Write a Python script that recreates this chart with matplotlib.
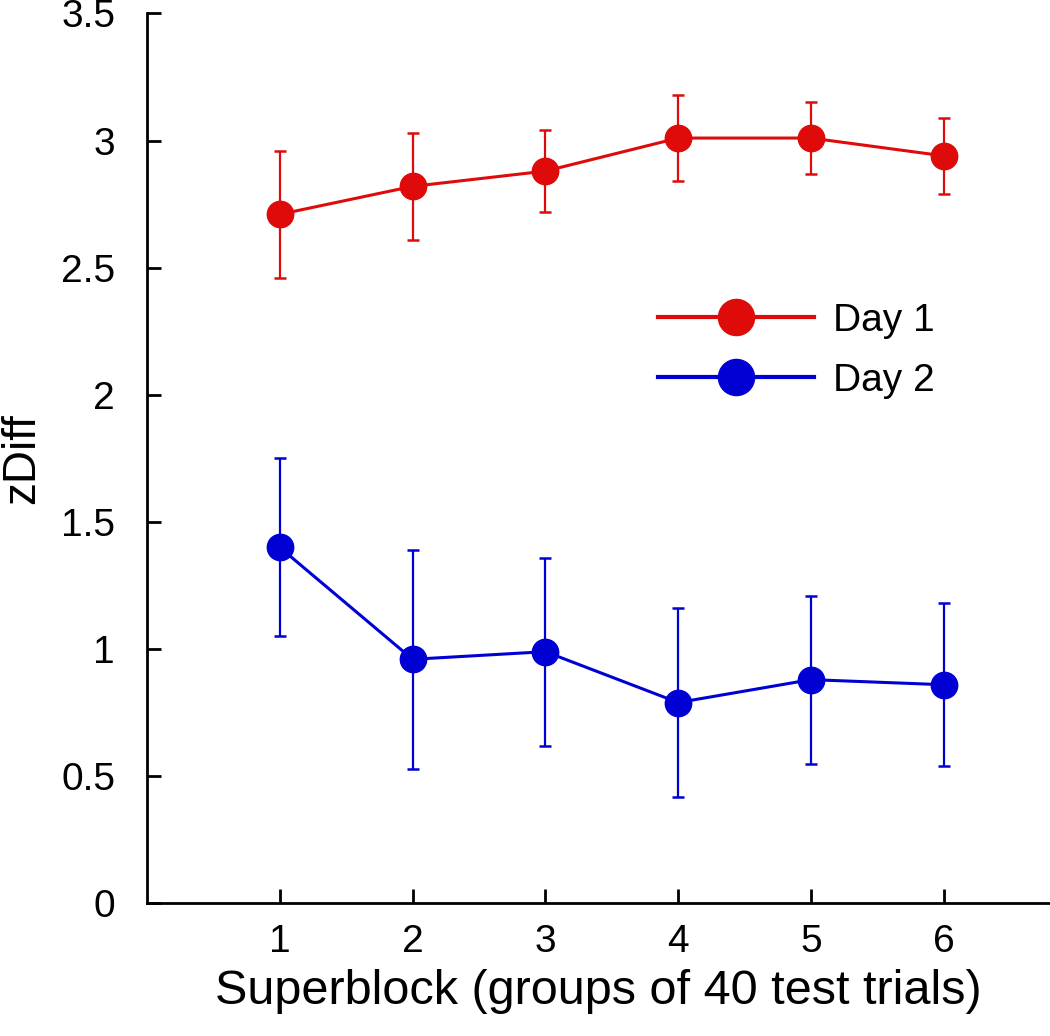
import matplotlib.pyplot as plt
from matplotlib.lines import Line2D

plt.rcParams['font.family'] = ['Liberation Sans', 'DejaVu Sans']

# data
superblock = [1, 2, 3, 4, 5, 6]
day1_mean = [2.71, 2.82, 2.88, 3.01, 3.01, 2.94]
day1_err = [0.25, 0.21, 0.16, 0.17, 0.14, 0.15]
day2_mean = [1.40, 0.96, 0.99, 0.79, 0.88, 0.86]
day2_err = [0.35, 0.43, 0.37, 0.37, 0.33, 0.32]

RED = '#df0a0a'
BLUE = '#0000d4'

fig = plt.figure(figsize=(10.5, 10.36), dpi=100)
ax = fig.add_axes([0.14, 0.128, 0.86, 0.859])

ax.errorbar(superblock, day1_mean, yerr=day1_err, color=RED, marker='o',
            markersize=19, linewidth=2.2, elinewidth=1.6, capsize=4, capthick=1.8)
ax.errorbar(superblock, day2_mean, yerr=day2_err, color=BLUE, marker='o',
            markersize=19, linewidth=2.2, elinewidth=1.6, capsize=4, capthick=1.8)

ax.set_xlim(0, 6.8)
ax.set_ylim(0, 3.5)
ax.set_xticks(superblock)
ax.set_yticks([0, 0.5, 1, 1.5, 2, 2.5, 3, 3.5])
ax.set_yticklabels(['0', '0.5', '1', '1.5', '2', '2.5', '3', '3.5'])

for s in ['top', 'right']:
    ax.spines[s].set_visible(False)
for s in ['left', 'bottom']:
    ax.spines[s].set_linewidth(2)

ax.tick_params(axis='both', direction='in', length=10, width=2, labelsize=28)
ax.tick_params(axis='x', pad=15)
ax.tick_params(axis='y', pad=23)

ax.set_xlabel('Superblock (groups of 40 test trials)', fontsize=35, labelpad=6)
ax.set_ylabel('zDiff', fontsize=33, labelpad=12)

# legend handles without error bars
handles = [Line2D([], [], color=RED, marker='o', markersize=26, linewidth=3),
           Line2D([], [], color=BLUE, marker='o', markersize=26, linewidth=3)]
ax.legend(handles, ['Day 1', 'Day 2'], loc='upper left',
          bbox_to_anchor=(0.566, 0.675), frameon=False,
          fontsize=28, handlelength=4.0, handletextpad=0.5, labelspacing=0.62,
          borderpad=0, borderaxespad=0)

fig.savefig('out.png', dpi=100)
